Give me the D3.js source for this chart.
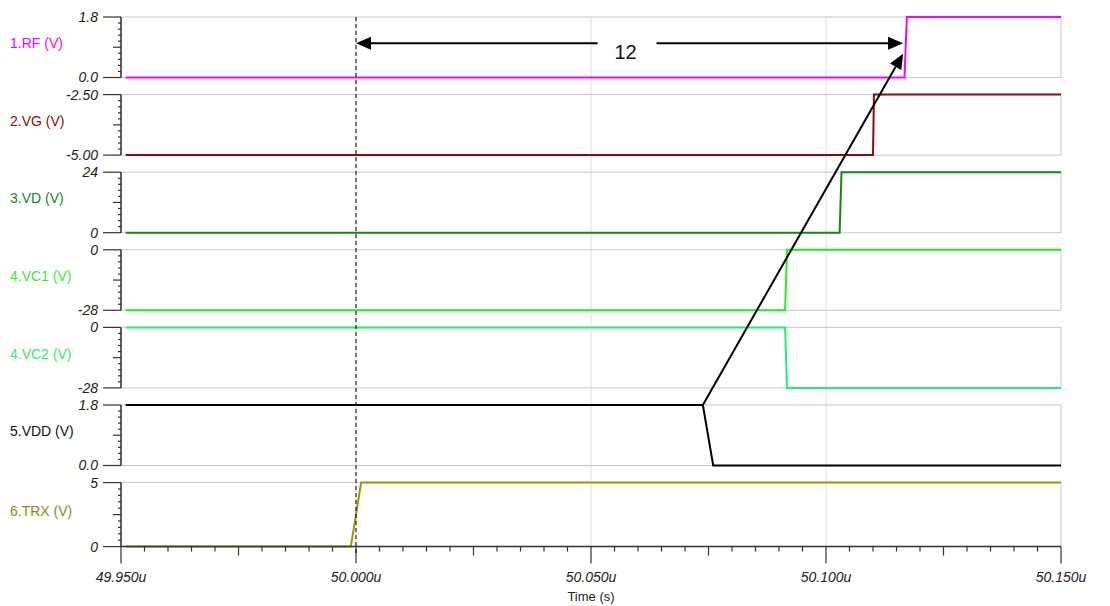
<!DOCTYPE html>
<html>
<head>
<meta charset="utf-8">
<script src="https://cdn.jsdelivr.net/npm/d3@7"></script>
<style>
  body { margin: 0; background: #fff; }
  svg { display: block; font-family: "Liberation Sans", Arial, sans-serif; }
</style>
</head>
<body>
<svg id="chart" width="1110" height="606"></svg>
<script>
// time in microseconds
var timeDomain = [49.950, 50.150];
var xTicks = [49.950, 50.000, 50.050, 50.100, 50.150];
var xTickLabels = ["49.950u", "50.000u", "50.050u", "50.100u", "50.150u"];

var names = ["1.RF (V)", "2.VG (V)", "3.VD (V)", "4.VC1 (V)", "4.VC2 (V)", "5.VDD (V)", "6.TRX (V)"];
var colors = ["#ff00ff", "#8b0a0a", "#11881b", "#22ee22", "#22ee77", "#000000", "#999900"];
var labelColors = ["#ff00ff", "#8b0a0a", "#11881b", "#33ee33", "#33ee66", "#111111", "#8b8b10"];
var yRanges = [[0, 1.8], [-5, -2.5], [0, 24], [-28, 0], [-28, 0], [0, 1.8], [0, 5]];
var yTickLabels = [["0.0", "1.8"], ["-5.00", "-2.50"], ["0", "24"], ["-28", "0"], ["-28", "0"], ["0.0", "1.8"], ["0", "5"]];

// waveforms: [time (us), volts]
var rfWave  = [[49.951, 0], [50.1167, 0], [50.1172, 1.8], [50.150, 1.8]];
var vgWave  = [[49.951, -5], [50.1100, -5], [50.1102, -2.5], [50.150, -2.5]];
var vdWave  = [[49.951, 0], [50.1029, 0], [50.1033, 24], [50.150, 24]];
var vc1Wave = [[49.951, -28], [50.0913, -28], [50.0917, 0], [50.150, 0]];
var vc2Wave = [[49.951, 0], [50.0913, 0], [50.0917, -28], [50.150, -28]];
var vddWave = [[49.951, 1.8], [50.0738, 1.8], [50.0760, 0], [50.150, 0]];
var trxWave = [[49.951, 0], [49.9989, 0], [50.0011, 5], [50.150, 5]];
var waves = [rfWave, vgWave, vdWave, vc1Wave, vc2Wave, vddWave, trxWave];

// cursor and measurement annotation
var cursorT = 50.000;
var measureEndT = 50.1164;
var measureV = 1.02;          // on RF panel
var measureLabel = "12";
var slantStart = [50.0738, 1.8];  // on VDD panel
var slantEnd = [50.1164, 0.71];   // on RF panel

var svg = d3.select("#chart");
var left = 121, right = 1061;
var x = d3.scaleLinear().domain(timeDomain).range([left, right]);

var panelTop0 = 17, panelStep = 77.6;
var panels = names.map(function(n, i) {
  var top = panelTop0 + i * panelStep;
  var h = i === names.length - 1 ? 64 : 60.5;
  var y = d3.scaleLinear().domain(yRanges[i]).range([top + h, top]);
  return { top: top, bottom: top + h, y: y };
});
var plotTop = panels[0].top, plotBottom = panels[panels.length - 1].bottom;

// vertical grid
svg.append("g").selectAll("line")
  .data(xTicks.slice(1, -1))
  .enter().append("line")
    .attr("x1", function(d) { return x(d); }).attr("x2", function(d) { return x(d); })
    .attr("y1", plotTop).attr("y2", plotBottom)
    .attr("stroke", "#dddddd").attr("stroke-width", 1);

panels.forEach(function(p, i) {
  var g = svg.append("g");
  // frame
  g.append("rect")
    .attr("x", left).attr("y", p.top)
    .attr("width", right - left).attr("height", p.bottom - p.top)
    .attr("fill", "none").attr("stroke", "#c8c8c8").attr("stroke-width", 1);

  // y axis with minor ticks
  var d0 = yRanges[i][0], d1 = yRanges[i][1];
  var minor = d3.range(0, 11).map(function(k) { return d0 + (d1 - d0) * k / 10; });
  g.append("line").attr("x1", left).attr("x2", left)
    .attr("y1", p.top).attr("y2", p.bottom)
    .attr("stroke", "#333").attr("stroke-width", 1.5);
  g.selectAll(".mt").data(minor).enter().append("line")
    .attr("x1", function(d, k) { return left - (k === 0 || k === 10 ? 18 : (k === 5 ? 8 : 3)); })
    .attr("x2", left)
    .attr("y1", function(d) { return p.y(d); }).attr("y2", function(d) { return p.y(d); })
    .attr("stroke", "#333").attr("stroke-width", 1.2);
  g.selectAll(".tl").data([d0, d1]).enter().append("text")
    .attr("x", 98).attr("y", function(d) { return p.y(d); })
    .attr("dy", "0.35em").attr("text-anchor", "end")
    .attr("font-size", 14).attr("font-style", "italic").attr("fill", "#222")
    .text(function(d, k) { return yTickLabels[i][k]; });

  // series name
  g.append("text")
    .attr("x", 10).attr("y", (p.top + p.bottom) / 2 - 4)
    .attr("dy", "0.35em").attr("font-size", 14)
    .attr("fill", labelColors[i]).text(names[i]);

  // trace
  var line = d3.line().x(function(d) { return x(d[0]); }).y(function(d) { return p.y(d[1]); });
  g.append("path").datum(waves[i])
    .attr("d", line).attr("fill", "none")
    .attr("stroke", colors[i]).attr("stroke-width", 2);
});

// x axis
var xAxisY = plotBottom;
var xg = svg.append("g");
xg.append("line").attr("x1", left).attr("x2", right)
  .attr("y1", xAxisY).attr("y2", xAxisY).attr("stroke", "#333").attr("stroke-width", 1.5);
var minorX = d3.range(0, 41).map(function(k) { return timeDomain[0] + 0.005 * k; });
xg.selectAll(".xt").data(minorX).enter().append("line")
  .attr("x1", function(d) { return x(d); }).attr("x2", function(d) { return x(d); })
  .attr("y1", xAxisY)
  .attr("y2", function(d, k) { return xAxisY + (k % 10 === 0 ? 17 : (k % 5 === 0 ? 9 : 5)); })
  .attr("stroke", "#333").attr("stroke-width", 1.2);
xg.selectAll(".xl").data(xTicks).enter().append("text")
  .attr("x", function(d) { return x(d); }).attr("y", 577)
  .attr("dy", "0.35em").attr("text-anchor", "middle")
  .attr("font-size", 14).attr("font-style", "italic").attr("fill", "#222")
  .text(function(d, k) { return xTickLabels[k]; });
xg.append("text").attr("x", x(50.050)).attr("y", 596)
  .attr("dy", "0.35em").attr("text-anchor", "middle")
  .attr("font-size", 13).attr("fill", "#222").text("Time (s)");

// cursor
svg.append("line")
  .attr("x1", x(cursorT)).attr("x2", x(cursorT))
  .attr("y1", plotTop).attr("y2", xAxisY + 8)
  .attr("stroke", "#000").attr("stroke-width", 1).attr("stroke-dasharray", "4,3");

// annotation arrows
function arrowHead(tip, from, len, half) {
  var dx = tip[0] - from[0], dy = tip[1] - from[1];
  var L = Math.sqrt(dx * dx + dy * dy), ux = dx / L, uy = dy / L;
  var bx = tip[0] - ux * len, by = tip[1] - uy * len;
  return [tip, [bx - uy * half, by + ux * half], [bx + uy * half, by - ux * half]];
}
var ann = svg.append("g");
var yRF = panels[0].y;
var ay = yRF(measureV), ax0 = x(cursorT), ax1 = x(measureEndT);
var midX = (ax0 + ax1) / 2 - 4;
ann.append("text").attr("x", midX).attr("y", ay + 9)
  .attr("dy", "0.35em").attr("text-anchor", "middle")
  .attr("font-size", 20).attr("fill", "#111").text(measureLabel);
[[ax0 + 12, midX - 28], [midX + 31, ax1 - 12]].forEach(function(s) {
  ann.append("line").attr("x1", s[0]).attr("x2", s[1]).attr("y1", ay).attr("y2", ay)
    .attr("stroke", "#000").attr("stroke-width", 2);
});
ann.append("polygon").attr("points", arrowHead([ax0, ay], [ax1, ay], 15, 6.5).join(" ")).attr("fill", "#000");
ann.append("polygon").attr("points", arrowHead([ax1, ay], [ax0, ay], 15, 6.5).join(" ")).attr("fill", "#000");

var s0 = [x(slantStart[0]), panels[5].y(slantStart[1])];
var s1 = [x(slantEnd[0]), yRF(slantEnd[1])];
var head = arrowHead(s1, s0, 15, 6.5);
ann.append("line")
  .attr("x1", s0[0]).attr("y1", s0[1])
  .attr("x2", (head[1][0] + head[2][0]) / 2).attr("y2", (head[1][1] + head[2][1]) / 2)
  .attr("stroke", "#000").attr("stroke-width", 2);
ann.append("polygon").attr("points", head.join(" ")).attr("fill", "#000");
</script>
</body>
</html>
